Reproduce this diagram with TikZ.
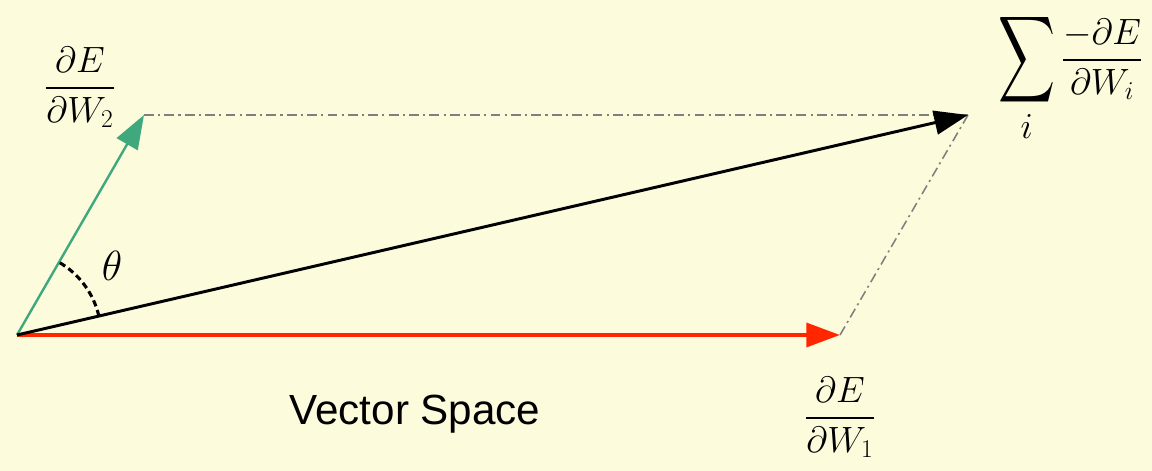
\RequirePackage{fix-cm}
\documentclass[tikz,border=0pt]{standalone}
\usepackage{amsmath,amssymb}
\usepackage{graphicx}
\usepackage{fontspec}
\setsansfont{Liberation Sans}
\usepackage{tikz}
\usetikzlibrary{arrows.meta}
\definecolor{paper}{HTML}{FCFBDC}
\definecolor{leaf}{HTML}{40A87D}
\definecolor{flame}{HTML}{FF2600}
\definecolor{guide}{HTML}{7F7F7F}

\begin{document}
\begin{tikzpicture}[x=0.025cm,y=-0.025cm,
  vec/.style={-{Triangle[length=24pt,width=17pt]}},
  guideline/.style={guide,line width=1.1pt,dash pattern=on 7pt off 3pt on 1.5pt off 3pt},
  mathlab/.style={inner sep=0pt,font=\fontsize{26}{31}\selectfont}]
\useasboundingbox[fill=paper] (0,0) rectangle (1152,471);
\coordinate (O) at (17,335);
\coordinate (W1) at (840,335);
\coordinate (W2) at (144,115);
\coordinate (S) at (968,115);
% parallelogram sides
\draw[guideline] (W2)--(S);
\draw[guideline] (W1)--(S);
% gradient vectors and their sum
\draw[vec,leaf,line width=1.7pt] (O)--(W2);
\draw[vec,flame,line width=2.8pt] (O)--(W1);
\draw[vec,black,line width=2.1pt] (O)--(S);
\draw[line width=2.2pt,dash pattern=on 4.5pt off 2.8pt] (O) ++(-13:84) arc[start angle=-13,end angle=-60,radius=84];
\node[font=\fontsize{30}{36}\selectfont] (th) at (112,266) {$\theta$};
\node[mathlab,anchor=base] (gW2) at (80,97) {$\dfrac{\partial E}{\partial W_2}$};
\node[mathlab,anchor=base] (gW1) at (840,427) {$\dfrac{\partial E}{\partial W_1}$};
\node[mathlab,anchor=base west] (gS) at (998,69)
  {$\mathop{\vcenter{\hbox{\scalebox{1.08}[1.65]{$\displaystyle\sum$}}}}\limits_{\textstyle i} \dfrac{-\partial E}{\partial W_i}$};
\node[font=\sffamily\fontsize{30}{36}\selectfont,anchor=base] (vs) at (415,425) {Vector Space};
\end{tikzpicture}
\end{document}
